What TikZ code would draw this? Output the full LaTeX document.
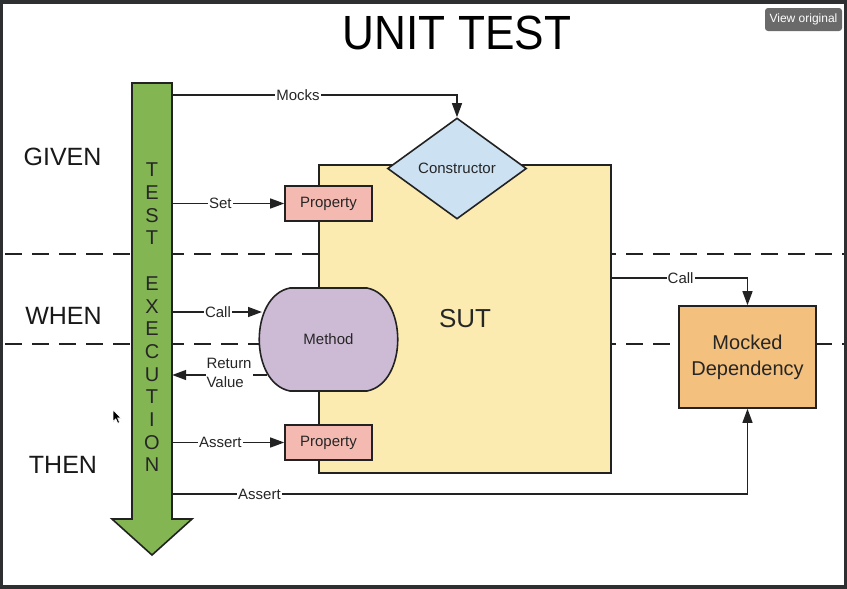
\documentclass[tikz,border=0pt]{standalone}
\usepackage{fontspec}
\setmainfont{Liberation Sans}
\newfontfamily\titlefont[FakeStretch=0.92]{Liberation Sans}
\usetikzlibrary{shapes.geometric,arrows.meta}

\definecolor{frameclr}{HTML}{2E2F31}
\definecolor{greenclr}{HTML}{83B552}
\definecolor{sutclr}{HTML}{FCEBB0}
\definecolor{propclr}{HTML}{F4BAB1}
\definecolor{ctorclr}{HTML}{CCE1F2}
\definecolor{methclr}{HTML}{CDBBD6}
\definecolor{mockclr}{HTML}{F4C07D}
\definecolor{lineclr}{HTML}{222222}
\definecolor{btnclr}{HTML}{6A6A6A}

\tikzset{
 shapeborder/.style={draw=lineclr, line width=1.6pt},
 box/.style={shapeborder, rectangle, inner sep=0pt},
 lbl/.style={font=\fontsize{15}{19}\selectfont, text=black!85},
 conn/.style={draw=lineclr, line width=1.4pt},
 arr/.style={conn, -{Triangle[length=14pt,width=10pt]}},
 onlbl/.style={lbl, fill=white, inner sep=1pt},
 phase/.style={font=\fontsize{25}{30}\selectfont, text=black!90},
 dashline/.style={draw=lineclr, line width=1.4pt, dash pattern=on 17pt off 10pt},
 vletter/.style={font=\fontsize{20}{22.7}\selectfont, text=black!85, align=center, inner sep=0pt}
}

\begin{document}
\begin{tikzpicture}[x=1pt,y=-1pt]
\useasboundingbox (0,0) rectangle (847,589);
\fill[frameclr] (0,0) rectangle (847,589);
\fill[white] (3,4) rectangle (844,585);

% title and button
\node[font=\titlefont\fontsize{48}{56}\selectfont, text=black] (title) at (457,33) {UNIT TEST};
\node[fill=btnclr, rounded corners=3pt, minimum width=77, minimum height=23, text=white,
      font=\fontsize{12}{13}\selectfont, inner sep=0pt] (btn) at (803.5,19.5) {View original};

% phase separators
\coordinate (d1a) at (5,254);  \coordinate (d1b) at (844,254);
\coordinate (d2a) at (5,344);  \coordinate (d2b) at (844,344);
\draw[dashline] (d1a) -- (d1b);
\draw[dashline] (d2a) -- (d2b);

% phase labels
\node[phase] (given) at (62.5,157) {GIVEN};
\node[phase] (when) at (63.5,316) {WHEN};
\node[phase] (then) at (63,465) {THEN};

% SUT
\node[box, fill=sutclr, minimum width=292, minimum height=308,
      font=\fontsize{26}{30}\selectfont, text=black!85] (sut) at (465,319) {SUT};

% constructor
\node[shapeborder, diamond, fill=ctorclr, inner sep=0pt, minimum width=139, minimum height=101,
      lbl] (ctor) at (457,168.5) {Constructor};

% properties
\node[box, fill=propclr, minimum width=87, minimum height=35, lbl] (prop1) at (328.5,203.5) {Property};
\node[box, fill=propclr, minimum width=87, minimum height=35, lbl] (prop2) at (328.5,442.5) {Property};

% method
\path[shapeborder, fill=methclr] (290,288) -- (367,288)
  .. controls (408,296) and (408,383) .. (367,391) -- (290,391)
  .. controls (249,383) and (249,296) .. (290,288) -- cycle;
\node[lbl] (method) at (328.5,339) {Method};
\coordinate (mcallin) at (262,312);
\coordinate (mretout) at (267,375);

% mocked dependency
\node[box, fill=mockclr, minimum width=137, minimum height=102, align=center,
      font=\fontsize{20}{26}\selectfont, text=black!85] (mock) at (747.5,357) {Mocked\\Dependency};

% test execution arrow
\path[shapeborder, fill=greenclr] (132,83) -- (172,83) -- (172,519) -- (192,519)
  -- (152,555) -- (112,519) -- (132,519) -- cycle;
\node[minimum width=40, minimum height=436, inner sep=0pt] (shaft) at (152,301) {};
\node[vletter] (execlbl) at (152,317.5) {T\\E\\S\\T\\[22.7pt]E\\X\\E\\C\\U\\T\\I\\O\\N};

% connectors
\coordinate (mkout) at (172,95);
\coordinate (callout) at (611,278);
\coordinate (assertout) at (172,494);

\draw[arr] (mkout) -| (ctor.north) node[onlbl, pos=0.221] {Mocks};
\draw[arr] (shaft.east |- prop1.west) -- (prop1.west) node[onlbl, pos=0.43] {Set};
\draw[arr] (shaft.east |- mcallin) -- (mcallin) node[onlbl, pos=0.51] {Call};
\draw[arr] (mretout) -- (shaft.east |- mretout)
  node[lbl, fill=white, inner sep=1pt, align=left, pos=0.4, yshift=2pt] {Return\\Value};
\draw[arr] (shaft.east |- prop2.west) -- (prop2.west) node[onlbl, pos=0.43] {Assert};
\draw[arr] (callout) -| (mock.north) node[onlbl, pos=0.255] {Call};
\draw[arr] (assertout) -| (mock.south) node[onlbl, pos=0.076] {Assert};

% mouse cursor
\path[fill=black, draw=white, line width=0.6pt] (113,410) -- (113,421.5) -- (115.8,418.8)
  -- (117.8,423.2) -- (119.6,422.4) -- (117.6,418) -- (121.2,418) -- cycle;
\end{tikzpicture}
\end{document}
